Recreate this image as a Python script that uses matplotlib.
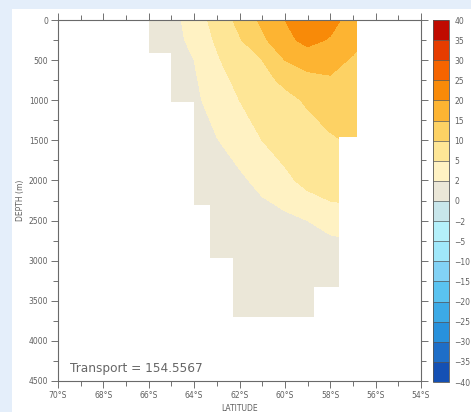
import numpy as np
import matplotlib
matplotlib.use("Agg")
import matplotlib.pyplot as plt
from matplotlib.colors import ListedColormap, BoundaryNorm
from matplotlib.patches import Polygon, Rectangle
from matplotlib.ticker import MultipleLocator, FixedLocator

# ---- section grid -------------------------------------------------------
lats = [-66.0, -65.0, -64.0, -63.0, -62.0, -61.0, -60.0, -59.0, -58.0, -57.0, -56.5]
depths = [0, 250, 500, 750, 1000, 1500, 2000, 2500, 3000, 3500, 3800]

# zonal velocity (cm/s), one row per depth level
u_row_0    = [0.8, 1.4, 2.8, 6.5, 11.5, 16.0, 20.0, 24.0, 22.0, 17.5, 16.0]
u_row_250  = [0.8, 1.3, 2.5, 5.5, 9.5, 14.0, 18.5, 21.5, 19.5, 16.5, 15.0]
u_row_500  = [0.7, 1.2, 2.0, 4.5, 7.5, 10.0, 15.0, 17.0, 16.5, 14.5, 13.5]
u_row_750  = [0.6, 1.0, 1.7, 3.5, 6.0, 8.5, 11.0, 13.5, 14.5, 13.5, 12.5]
u_row_1000 = [0.6, 0.9, 1.5, 3.0, 5.0, 7.0, 8.6, 10.6, 12.0, 12.0, 11.5]
u_row_1500 = [0.5, 0.7, 1.0, 1.9, 3.0, 5.0, 6.5, 8.0, 9.5, 10.5, 10.5]
u_row_2000 = [0.4, 0.5, 0.7, 1.0, 1.6, 2.6, 4.2, 6.0, 7.5, 8.0, 8.0]
u_row_2500 = [0.3, 0.3, 0.4, 0.6, 0.8, 1.1, 1.3, 2.0, 2.6, 3.0, 3.0]
u_row_3000 = [0.3, 0.3, 0.3, 0.4, 0.5, 0.6, 0.7, 0.8, 0.9, 0.9, 0.9]
u_row_3500 = [0.3, 0.3, 0.3, 0.3, 0.4, 0.5, 0.6, 0.7, 0.8, 0.8, 0.8]
u_row_3800 = [0.3, 0.3, 0.3, 0.3, 0.4, 0.5, 0.6, 0.7, 0.8, 0.8, 0.8]

# sea-floor steps: latitude edges and bottom depth of each column
floor_lat_edges = [-66.0, -65.0, -64.0, -63.3, -62.3, -58.7, -57.6, -56.8]
floor_depths = [411, 1022, 2306, 2967, 3703, 3328, 1459]

levels = [-40, -35, -30, -25, -20, -15, -10, -5, -2, 0, 2, 5, 10, 15, 20, 25, 30, 35, 40]
level_colors = ['#1450b4', '#1e6ec8', '#2891dc', '#3caae6', '#5ac3f0', '#82d2f5',
                '#a0e8fa', '#b4f0fa', '#c8e6eb', '#ebe7d8', '#fff2c3', '#fee696',
                '#fdd264', '#fdb432', '#f88a08', '#f56400', '#e63c00', '#c00a00']

transport = 154.5567

x_ticks = [-70, -68, -66, -64, -62, -60, -58, -56, -54]
x_tick_labels = ['70°S', '68°S', '66°S', '64°S', '62°S', '60°S', '58°S', '56°S', '54°S']
y_ticks = [0, 500, 1000, 1500, 2000, 2500, 3000, 3500, 4000, 4500]

# ---- figure -------------------------------------------------------------
W, H = 471, 412
fig = plt.figure(figsize=(W / 100, H / 100), dpi=100, facecolor='#e4eefa')
fig.patches.append(Rectangle((12 / W, 0), 1 - 12 / W, 1 - 9 / H,
                             transform=fig.transFigure, facecolor='white',
                             edgecolor='none', zorder=-5))

ax = fig.add_axes([58 / W, (H - 381) / H, 363 / W, 361 / H])
ax.set_facecolor('white')

field = np.array([u_row_0, u_row_250, u_row_500, u_row_750, u_row_1000, u_row_1500,
                  u_row_2000, u_row_2500, u_row_3000, u_row_3500, u_row_3800])
LAT, DEP = np.meshgrid(lats, depths)

cmap = ListedColormap(level_colors)
norm = BoundaryNorm(levels, cmap.N)
cs = ax.contourf(LAT, DEP, field, levels=levels, cmap=cmap, norm=norm)

# outline of the ocean section (staircase sea floor)
verts = [(floor_lat_edges[0], 0)]
for i, d in enumerate(floor_depths):
    verts.append((floor_lat_edges[i], d))
    verts.append((floor_lat_edges[i + 1], d))
verts.append((floor_lat_edges[-1], 0))
section = Polygon(verts, closed=True, transform=ax.transData,
                  facecolor='none', edgecolor='none')
ax.add_patch(section)
cs.set_clip_path(section)

ax.set_xlim(-70, -54)
ax.set_ylim(4500, 0)

tick_col = '#707070'
ax.xaxis.set_major_locator(FixedLocator(x_ticks))
ax.set_xticklabels(x_tick_labels)
ax.xaxis.set_minor_locator(MultipleLocator(1))
ax.yaxis.set_major_locator(FixedLocator(y_ticks))
ax.yaxis.set_minor_locator(MultipleLocator(250))
ax.tick_params(which='both', top=True, right=True, direction='out',
               color=tick_col, width=0.7, labelsize=5.5, labelcolor='#606060',
               pad=2)
ax.tick_params(which='major', length=5)
ax.tick_params(which='minor', length=3.5)
for s in ax.spines.values():
    s.set_color('#6a6a6a')
    s.set_linewidth(0.8)

ax.set_xlabel('LATITUDE', fontsize=5.5, color='#606060', labelpad=3)
ax.set_ylabel('DEPTH (m)', fontsize=5.5, color='#606060', labelpad=3)

ax.text(0.033, 0.025, f'Transport = {transport}', transform=ax.transAxes,
        fontsize=8.7, color='#666666', ha='left', va='baseline')

# ---- colour bar ---------------------------------------------------------
cax = fig.add_axes([433 / W, (H - 382) / H, 16 / W, 362 / H])
cb = fig.colorbar(cs, cax=cax, ticks=levels, spacing='uniform', drawedges=True)
cb.outline.set_edgecolor('#555555')
cb.outline.set_linewidth(0.6)
cb.dividers.set_color('#555555')
cb.dividers.set_linewidth(0.5)
cb.ax.tick_params(length=0, labelsize=5.5, labelcolor='#606060', pad=4)

fig.savefig('out.png', dpi=100, facecolor=fig.get_facecolor())
